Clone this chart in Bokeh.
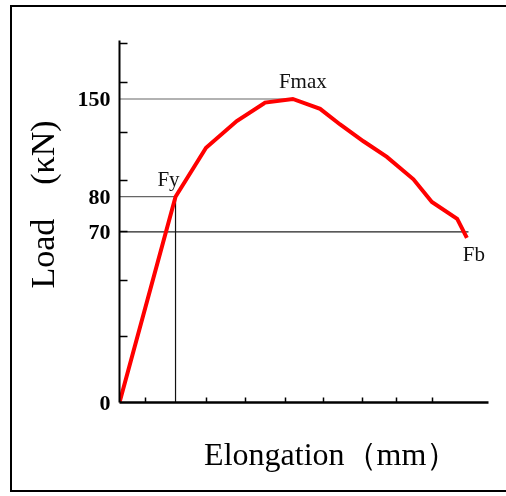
from bokeh.plotting import figure
from bokeh.models import FixedTicker, Range1d, ColumnDataSource
from bokeh.core.properties import value
from bokeh.embed import file_html
from bokeh.resources import INLINE

# ---- data (schematic units) ----
elong = [0, 5.6, 8.65, 11.72, 14.55, 17.32, 20.05, 22.05, 24.38, 26.72, 29.38, 31.22, 33.75, 34.72]
load = [0, 101.7, 125.9, 139.1, 148.2, 150.0, 145.1, 137.4, 129.1, 121.4, 110.3, 99.1, 90.8, 81.4]

# y tick positions (schematic axis) and their labels
ytick_pos = [0, 84.3, 101.7, 150]
ytick_lab = ["0", "70", "80", "150"]
ytick_marks = [177.5, 158.0, 133.2, 109.6, 84.3, 60.4, 32.4]
xtick_marks = [2.58, 8.65, 12.62, 16.55, 20.38, 24.32, 27.72, 31.28]

# key points
pt_names = ["Fy", "Fmax", "Fb"]
pt_x = [5.6, 17.32, 34.72]
pt_y = [101.7, 150.0, 81.4]
pt_dx = [-7, 10, 7]
pt_dy = [-18, -18, 16]

# guide lines: horizontal at levels, vertical at Fy
guide_level = [150.0, 101.7, 84.3]
guide_end = [17.32, 5.6, 34.88]
guide_color = ["#666666", "#666666", "#222222"]

XMAX, YMAX = 36.88, 178.9

p = figure(width=520, height=487, output_backend="svg", toolbar_location=None,
           x_range=Range1d(0, XMAX), y_range=Range1d(0, YMAX),
           min_border_left=107, min_border_right=44, min_border_top=33, min_border_bottom=92,
           styles={"border-left": "2px solid black", "border-top": "2px solid black",
                   "border-bottom": "2px solid black", "border-right": "none",
                   "position": "fixed", "left": "10px", "top": "5px"})
p.xgrid.visible = False
p.ygrid.visible = False
p.outline_line_color = None
p.background_fill_color = "white"
p.border_fill_color = "white"

# axes
ya = p.yaxis[0]
ya.ticker = FixedTicker(ticks=ytick_pos, minor_ticks=ytick_marks)
ya.major_label_overrides = {v: l for v, l in zip(ytick_pos, ytick_lab)}
ya.major_tick_in = 0
ya.major_tick_out = 0
ya.minor_tick_in = 8
ya.minor_tick_out = 0
ya.minor_tick_line_width = 1.5
ya.minor_tick_line_color = "black"
ya.axis_line_width = 2
ya.axis_line_color = "black"
ya.major_label_standoff = 9
ya.major_label_text_font = "Liberation Serif"
ya.major_label_text_font_style = "bold"
ya.major_label_text_font_size = "22px"
ya.major_label_text_color = "black"
ya.axis_label = "\u3000Load\u3000(\u03baN)"
ya.axis_label_text_font = "Liberation Serif"
ya.axis_label_text_font_style = "normal"
ya.axis_label_text_font_size = "34px"
ya.axis_label_text_color = "black"
ya.axis_label_standoff = 14

xa = p.xaxis[0]
xa.ticker = FixedTicker(ticks=[], minor_ticks=xtick_marks)
xa.major_tick_in = 0
xa.major_tick_out = 0
xa.minor_tick_in = 5
xa.minor_tick_out = 0
xa.minor_tick_line_width = 1.5
xa.minor_tick_line_color = "black"
xa.axis_line_width = 2.5
xa.axis_line_color = "black"
xa.major_label_text_font_size = "0px"
xa.major_label_standoff = 0
xa.axis_label = "\u3000\u2002\u2009Elongation\uff08mm\uff09"
xa.axis_label_text_font = "Liberation Serif"
xa.axis_label_text_font_style = "normal"
xa.axis_label_text_font_size = "32px"
xa.axis_label_text_color = "black"
xa.axis_label_standoff = 33

# guide lines
p.segment(x0=[0] * len(guide_level), y0=guide_level, x1=guide_end, y1=guide_level,
          line_color=guide_color, line_width=1.2)
p.segment(x0=[pt_x[0]], y0=[0], x1=[pt_x[0]], y1=[pt_y[0]], line_color="#111111", line_width=1.2)

# curve
p.line(elong, load, line_color="#ff0000", line_width=4, line_join="miter")

# point labels
src = ColumnDataSource(dict(x=pt_x, y=pt_y, t=pt_names, dx=pt_dx, dy=pt_dy))
p.text(x="x", y="y", text="t", x_offset="dx", y_offset="dy", source=src,
       text_font=value("Liberation Serif"), text_font_size="21px", text_color="#111111",
       text_align="center", text_baseline="alphabetic")

open("out.html", "w").write(file_html(p, INLINE))
